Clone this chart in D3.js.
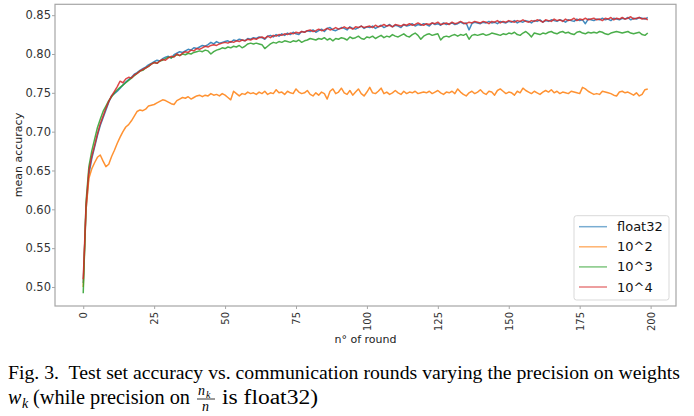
<!DOCTYPE html>
<html>
<head>
<meta charset="utf-8">
<script src="https://d3js.org/d3.v7.min.js"></script>
<style>
  body { margin: 0; background: #fff; }
  #chart { width: 694px; height: 416px; }
</style>
</head>
<body>
<div id="chart"></div>
<script>
// accuracy per round
var float32 = [
  0.505, 0.600, 0.645, 0.665, 0.680, 0.695, 0.708, 0.718, 0.728, 0.738,
  0.746, 0.749, 0.752, 0.756, 0.760, 0.764, 0.767, 0.770, 0.774, 0.776,
  0.779, 0.781, 0.783, 0.786, 0.788, 0.790, 0.792, 0.791, 0.794, 0.796,
  0.797, 0.795, 0.799, 0.801, 0.803, 0.802, 0.804, 0.806, 0.805, 0.808,
  0.807, 0.809, 0.811, 0.810, 0.812, 0.815, 0.813, 0.816, 0.814, 0.815,
  0.816, 0.817, 0.815, 0.818, 0.817, 0.819, 0.818, 0.817, 0.820, 0.819,
  0.821, 0.820, 0.822, 0.821, 0.819, 0.823, 0.824, 0.822, 0.825, 0.823,
  0.826, 0.824, 0.827, 0.825, 0.828, 0.826, 0.825, 0.829, 0.828, 0.830,
  0.829, 0.831, 0.828, 0.830, 0.832, 0.829, 0.833, 0.834, 0.831, 0.830,
  0.832, 0.834, 0.833, 0.831, 0.835, 0.833, 0.832, 0.834, 0.836, 0.833,
  0.835, 0.834, 0.836, 0.833, 0.835, 0.837, 0.834, 0.836, 0.838, 0.835,
  0.837, 0.836, 0.834, 0.838, 0.836, 0.837, 0.839, 0.836, 0.838, 0.837,
  0.839, 0.838, 0.836, 0.840, 0.838, 0.839, 0.837, 0.840, 0.838, 0.839,
  0.840, 0.838, 0.839, 0.841, 0.839, 0.840, 0.831, 0.839, 0.841, 0.840,
  0.839, 0.841, 0.840, 0.842, 0.840, 0.841, 0.839, 0.842, 0.841, 0.840,
  0.842, 0.841, 0.843, 0.840, 0.842, 0.841, 0.843, 0.842, 0.840, 0.843,
  0.842, 0.844, 0.841, 0.843, 0.842, 0.844, 0.843, 0.842, 0.844, 0.843,
  0.841, 0.844, 0.843, 0.842, 0.845, 0.843, 0.844, 0.839, 0.845, 0.844,
  0.843, 0.845, 0.844, 0.846, 0.844, 0.845, 0.843, 0.846, 0.845, 0.844,
  0.846, 0.845, 0.847, 0.844, 0.846, 0.845, 0.847, 0.846, 0.845, 0.847
]
var prec2 = [
  0.500, 0.600, 0.640, 0.652, 0.660, 0.667, 0.670, 0.662, 0.655, 0.658,
  0.668, 0.676, 0.685, 0.693, 0.700, 0.706, 0.709, 0.714, 0.720, 0.726,
  0.728, 0.727, 0.729, 0.733, 0.734, 0.735, 0.737, 0.739, 0.741, 0.740,
  0.738, 0.736, 0.735, 0.740, 0.742, 0.744, 0.743, 0.745, 0.742, 0.744,
  0.746, 0.747, 0.745, 0.747, 0.746, 0.749, 0.747, 0.748, 0.746, 0.749,
  0.747, 0.744, 0.741, 0.752, 0.749, 0.746, 0.749, 0.748, 0.751, 0.749,
  0.750, 0.748, 0.751, 0.749, 0.752, 0.748, 0.750, 0.749, 0.754, 0.750,
  0.751, 0.748, 0.752, 0.750, 0.749, 0.755, 0.751, 0.749, 0.750, 0.753,
  0.748, 0.746, 0.750, 0.747, 0.751, 0.749, 0.742, 0.752, 0.755, 0.749,
  0.751, 0.756, 0.750, 0.748, 0.753, 0.747, 0.751, 0.755, 0.749, 0.746,
  0.751, 0.757, 0.750, 0.749, 0.752, 0.756, 0.749, 0.751, 0.748, 0.750,
  0.753, 0.750, 0.748, 0.752, 0.749, 0.751, 0.750, 0.752, 0.749, 0.750,
  0.751, 0.750, 0.752, 0.749, 0.751, 0.753, 0.750, 0.748, 0.751, 0.750,
  0.752, 0.749, 0.755, 0.751, 0.748, 0.746, 0.750, 0.752, 0.749, 0.751,
  0.754, 0.750, 0.748, 0.752, 0.751, 0.747, 0.753, 0.755, 0.752, 0.749,
  0.751, 0.750, 0.747, 0.752, 0.750, 0.756, 0.753, 0.751, 0.749, 0.752,
  0.750, 0.748, 0.751, 0.753, 0.751, 0.754, 0.750, 0.752, 0.749, 0.751,
  0.750, 0.749, 0.752, 0.751, 0.750, 0.749, 0.757, 0.755, 0.752, 0.750,
  0.748, 0.749, 0.748, 0.752, 0.751, 0.750, 0.749, 0.747, 0.746, 0.751,
  0.752, 0.750, 0.751, 0.749, 0.747, 0.750, 0.746, 0.748, 0.754, 0.755
]
var prec3 = [
  0.492, 0.610, 0.655, 0.675, 0.690, 0.705, 0.716, 0.726, 0.733, 0.740,
  0.745, 0.750, 0.754, 0.757, 0.760, 0.763, 0.766, 0.769, 0.772, 0.775,
  0.778, 0.779, 0.782, 0.784, 0.787, 0.789, 0.788, 0.791, 0.792, 0.794,
  0.796, 0.795, 0.797, 0.799, 0.798, 0.800, 0.799, 0.801, 0.800, 0.802,
  0.803, 0.804, 0.803, 0.805, 0.804, 0.800, 0.803, 0.805, 0.806, 0.808,
  0.807, 0.809, 0.808, 0.810, 0.809, 0.811, 0.808, 0.810, 0.813, 0.814,
  0.813, 0.814, 0.813, 0.812, 0.807, 0.810, 0.813, 0.815, 0.814, 0.816,
  0.815, 0.817, 0.816, 0.815, 0.817, 0.816, 0.818, 0.815, 0.817, 0.818,
  0.820, 0.819, 0.818, 0.820, 0.819, 0.821, 0.818, 0.820, 0.817, 0.820,
  0.819, 0.821, 0.820, 0.818, 0.822, 0.820, 0.821, 0.823, 0.820, 0.819,
  0.822, 0.821, 0.823, 0.820, 0.822, 0.824, 0.821, 0.823, 0.822, 0.825,
  0.823, 0.822, 0.824, 0.826, 0.823, 0.822, 0.825, 0.827, 0.824, 0.819,
  0.823, 0.825, 0.826, 0.824, 0.825, 0.826, 0.818, 0.822, 0.823, 0.822,
  0.824, 0.825, 0.823, 0.825, 0.824, 0.826, 0.819, 0.824, 0.825, 0.824,
  0.825, 0.826, 0.824, 0.825, 0.827, 0.826, 0.825, 0.824, 0.826, 0.825,
  0.827, 0.826, 0.828, 0.825, 0.824, 0.827, 0.829, 0.826, 0.822, 0.827,
  0.826, 0.825, 0.827, 0.826, 0.828, 0.829, 0.827, 0.826, 0.828, 0.829,
  0.827, 0.828, 0.826, 0.825, 0.828, 0.829, 0.827, 0.826, 0.828, 0.827,
  0.828, 0.827, 0.829, 0.828, 0.826, 0.825, 0.827, 0.828, 0.829, 0.828,
  0.827, 0.828, 0.829, 0.827, 0.826, 0.827, 0.828, 0.825, 0.824, 0.827
]
var prec4 = [
  0.510, 0.605, 0.650, 0.668, 0.682, 0.697, 0.710, 0.720, 0.730, 0.739,
  0.746, 0.752, 0.758, 0.765, 0.763, 0.768, 0.770, 0.769, 0.773, 0.775,
  0.778, 0.780, 0.782, 0.784, 0.787, 0.789, 0.788, 0.791, 0.793, 0.792,
  0.795, 0.797, 0.796, 0.800, 0.798, 0.801, 0.803, 0.802, 0.805, 0.804,
  0.807, 0.806, 0.808, 0.810, 0.809, 0.811, 0.812, 0.811, 0.813, 0.814,
  0.815, 0.814, 0.816, 0.815, 0.817, 0.816, 0.818, 0.817, 0.819, 0.818,
  0.820, 0.819, 0.821, 0.822, 0.820, 0.823, 0.821, 0.824, 0.823, 0.825,
  0.824, 0.826, 0.825, 0.827, 0.826, 0.828, 0.827, 0.829, 0.828, 0.830,
  0.831, 0.829, 0.830, 0.832, 0.830, 0.831, 0.833, 0.831, 0.832, 0.834,
  0.832, 0.833, 0.835, 0.833, 0.834, 0.832, 0.835, 0.834, 0.836, 0.834,
  0.835, 0.836, 0.834, 0.837, 0.835, 0.836, 0.838, 0.836, 0.837, 0.835,
  0.838, 0.837, 0.836, 0.838, 0.837, 0.839, 0.837, 0.838, 0.840, 0.838,
  0.837, 0.839, 0.838, 0.840, 0.839, 0.841, 0.838, 0.839, 0.840, 0.838,
  0.841, 0.839, 0.840, 0.842, 0.840, 0.839, 0.841, 0.840, 0.842, 0.841,
  0.840, 0.842, 0.841, 0.839, 0.842, 0.841, 0.843, 0.840, 0.842, 0.841,
  0.843, 0.842, 0.841, 0.843, 0.842, 0.844, 0.842, 0.841, 0.843, 0.842,
  0.844, 0.843, 0.841, 0.844, 0.843, 0.842, 0.845, 0.843, 0.844, 0.842,
  0.845, 0.843, 0.844, 0.846, 0.843, 0.845, 0.844, 0.846, 0.844, 0.845,
  0.846, 0.844, 0.845, 0.843, 0.846, 0.845, 0.847, 0.844, 0.846, 0.845,
  0.847, 0.845, 0.846, 0.848, 0.845, 0.846, 0.847, 0.845, 0.846, 0.844
]

var seriesNames = ['float32', '10^2', '10^3', '10^4']
var seriesColors = ['#1f77b4', '#ff7f0e', '#2ca02c', '#d62728']
var xTicks = [0, 25, 50, 75, 100, 125, 150, 175, 200]
var yTicks = [0.50, 0.55, 0.60, 0.65, 0.70, 0.75, 0.80, 0.85]
var caption1 = 'Fig. 3.\u00a0 Test set accuracy vs. communication rounds varying the precision on weights'

var allSeries = [float32, prec2, prec3, prec4]

var svg = d3.select('#chart').append('svg')
  .attr('width', 694)
  .attr('height', 416)

var x = d3.scaleLinear().domain([-9.95, 208.95]).range([55, 676])
var y = d3.scaleLinear().domain([0.4755, 0.864]).range([306, 4.3])

// frame
svg.append('rect')
  .attr('x', 55).attr('y', 4.3)
  .attr('width', 621).attr('height', 301.7)
  .attr('fill', '#fff')
  .attr('stroke', '#a6a6a6')
  .attr('stroke-width', 1.2)

var line = d3.line()
  .x(function(d, i) { return x(i) })
  .y(function(d) { return y(d) })

svg.selectAll('.series')
  .data(allSeries)
  .enter().append('path')
    .attr('class', 'series')
    .attr('d', line)
    .attr('fill', 'none')
    .attr('stroke', function(d, i) { return seriesColors[i] })
    .attr('stroke-width', 1.5)
    .attr('stroke-opacity', 0.85)
    .attr('stroke-linejoin', 'round')

// x axis
var xAxis = svg.append('g')
  .attr('transform', 'translate(0,306)')
  .call(d3.axisBottom(x).tickValues(xTicks).tickSize(3).tickSizeOuter(0))
xAxis.select('.domain').remove()
xAxis.selectAll('line').attr('stroke', '#a6a6a6')
xAxis.selectAll('text')
  .attr('transform', 'rotate(-90)')
  .attr('x', -6).attr('y', 0).attr('dy', '0.35em')
  .style('text-anchor', 'end')
  .style('font-family', 'DejaVu Sans')
  .style('font-size', '10px')
  .attr('fill', '#333')

// y axis
var yAxis = svg.append('g')
  .attr('transform', 'translate(55,0)')
  .call(d3.axisLeft(y).tickValues(yTicks).tickFormat(d3.format('.2f')).tickSize(3).tickSizeOuter(0))
yAxis.select('.domain').remove()
yAxis.selectAll('line').attr('stroke', '#a6a6a6')
yAxis.selectAll('text')
  .attr('x', -4)
  .style('font-family', 'DejaVu Sans')
  .style('font-size', '11.5px')
  .attr('fill', '#333')

svg.append('text')
  .attr('x', 365.5).attr('y', 343)
  .attr('text-anchor', 'middle')
  .style('font-family', 'DejaVu Sans')
  .style('font-size', '11px')
  .attr('fill', '#222')
  .text('n° of round')

svg.append('text')
  .attr('transform', 'translate(18,155) rotate(-90)')
  .attr('text-anchor', 'middle')
  .attr('dy', '0.35em')
  .style('font-family', 'DejaVu Sans')
  .style('font-size', '11px')
  .attr('fill', '#222')
  .text('mean accuracy')

// legend
var legend = svg.append('g')
legend.append('rect')
  .attr('x', 574).attr('y', 215.7)
  .attr('width', 95).attr('height', 84.3)
  .attr('rx', 2.5)
  .attr('fill', '#fff').attr('fill-opacity', 0.8)
  .attr('stroke', '#d9d9d9')

var items = legend.selectAll('.item')
  .data(seriesNames)
  .enter().append('g')
    .attr('class', 'item')
    .attr('transform', function(d, i) { return 'translate(0,' + (226.7 + i * 20.1) + ')' })

items.append('line')
  .attr('x1', 579).attr('x2', 607)
  .attr('stroke', function(d, i) { return seriesColors[i] })
  .attr('stroke-width', 1.5)
  .attr('stroke-opacity', 0.6)

items.append('text')
  .attr('x', 617).attr('dy', '0.35em')
  .style('font-family', 'DejaVu Sans')
  .style('font-size', '13px')
  .attr('fill', '#111')
  .text(function(d) { return d })

// caption
svg.append('text')
  .attr('x', 8).attr('y', 379)
  .attr('textLength', 672)
  .attr('lengthAdjust', 'spacingAndGlyphs')
  .style('font-family', 'Liberation Serif')
  .style('font-size', '19.5px')
  .attr('fill', '#000')
  .text(caption1)

var cap2 = svg.append('g')
  .style('font-family', 'Liberation Serif')
  .attr('fill', '#000')
cap2.append('text').attr('x', 8).attr('y', 404)
  .style('font-size', '20px').style('font-style', 'italic').text('w')
cap2.append('text').attr('x', 22).attr('y', 408)
  .style('font-size', '14px').style('font-style', 'italic').text('k')
cap2.append('text').attr('x', 33).attr('y', 404)
  .attr('textLength', 157).attr('lengthAdjust', 'spacingAndGlyphs')
  .style('font-size', '20px').text('(while precision on')
cap2.append('text').attr('x', 198).attr('y', 395)
  .style('font-size', '14px').style('font-style', 'italic').text('n')
cap2.append('text').attr('x', 206).attr('y', 398)
  .style('font-size', '10px').style('font-style', 'italic').text('k')
cap2.append('line').attr('x1', 197).attr('x2', 215).attr('y1', 399).attr('y2', 399)
  .attr('stroke', '#000').attr('stroke-width', 0.8)
cap2.append('text').attr('x', 202).attr('y', 411)
  .style('font-size', '14px').style('font-style', 'italic').text('n')
cap2.append('text').attr('x', 222).attr('y', 404)
  .attr('textLength', 96).attr('lengthAdjust', 'spacingAndGlyphs')
  .style('font-size', '20px').text('is float32)')
</script>
</body>
</html>
